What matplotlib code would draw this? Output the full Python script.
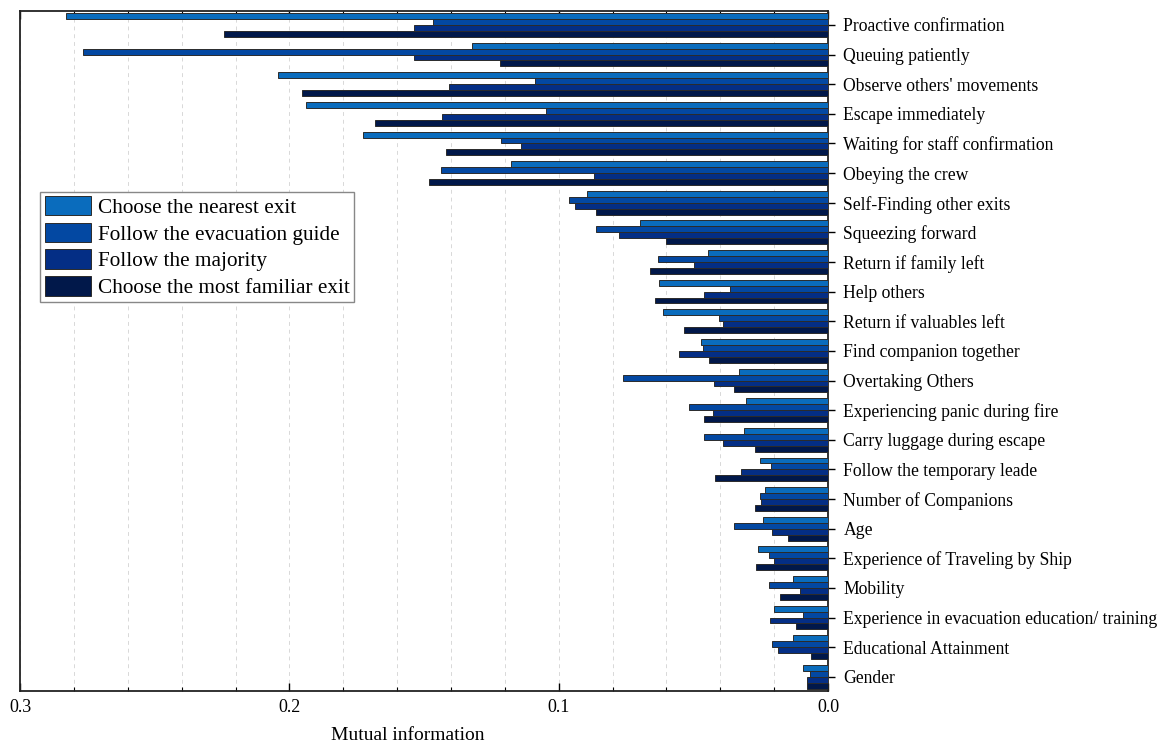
import matplotlib
matplotlib.use("Agg")
import matplotlib.pyplot as plt
import numpy as np

plt.rcParams['font.family'] = ['Liberation Serif', 'DejaVu Serif']

# categories, top to bottom
factors = ["Proactive confirmation", "Queuing patiently", "Observe others' movements",
           "Escape immediately", "Waiting for staff confirmation", "Obeying the crew",
           "Self-Finding other exits", "Squeezing forward", "Return if family left",
           "Help others", "Return if valuables left", "Find companion together",
           "Overtaking Others", "Experiencing panic during fire", "Carry luggage during escape",
           "Follow the temporary leade", "Number of Companions", "Age",
           "Experience of Traveling by Ship", "Mobility",
           "Experience in evacuation education/ training", "Educational Attainment", "Gender"]

series_names = ["Choose the nearest exit", "Follow the evacuation guide",
                "Follow the majority", "Choose the most familiar exit"]

nearest = [0.2829, 0.1322, 0.2042, 0.1938, 0.1727, 0.1179, 0.0896, 0.0700, 0.0447, 0.0626,
           0.0614, 0.0473, 0.0329, 0.0303, 0.0313, 0.0252, 0.0236, 0.0242, 0.0261, 0.0131,
           0.0201, 0.0132, 0.0094]
guide = [0.1467, 0.2767, 0.1089, 0.1047, 0.1215, 0.1438, 0.0962, 0.0862, 0.0630, 0.0363,
         0.0405, 0.0464, 0.0762, 0.0517, 0.0462, 0.0211, 0.0253, 0.0348, 0.0220, 0.0221,
         0.0095, 0.0209, 0.0068]
majority = [0.1537, 0.1538, 0.1409, 0.1435, 0.1141, 0.0868, 0.0941, 0.0778, 0.0498, 0.0459,
            0.0391, 0.0553, 0.0424, 0.0426, 0.0391, 0.0325, 0.0248, 0.0210, 0.0199, 0.0106,
            0.0214, 0.0187, 0.0077]
familiar = [0.2242, 0.1219, 0.1952, 0.1684, 0.1417, 0.1483, 0.0862, 0.0603, 0.0661, 0.0644,
            0.0535, 0.0444, 0.0351, 0.0462, 0.0273, 0.0421, 0.0273, 0.0150, 0.0268, 0.0177,
            0.0121, 0.0064, 0.0078]

colors = ["#0a6cbd", "#0348a2", "#042e85", "#01184a"]

fig = plt.figure(figsize=(11.66, 7.44), dpi=100)
ax = fig.add_axes([0.0172, 0.0716, 0.6930, 0.9140])

y = np.arange(len(factors))
h = 0.2
for i, vals in enumerate([nearest, guide, majority, familiar]):
    ax.barh(y + (i - 1.5) * h, vals, height=h, color=colors[i],
            edgecolor="#2b2b2b", linewidth=0.7, label=series_names[i], zorder=3)

ax.set_xlim(0.3, 0.0)
ax.set_ylim(len(factors) - 0.53, -0.48)

ax.set_xticks([0.3, 0.2, 0.1, 0.0])
ax.set_xticklabels(["0.3", "0.2", "0.1", "0.0"])
ax.set_xticks(np.arange(0.02, 0.3, 0.02), minor=True)
ax.xaxis.grid(True, which="both", color="#d8d8d8", linestyle=(0, (4, 4)), linewidth=0.7, zorder=0)
ax.tick_params(axis="x", which="major", direction="in", top=True, bottom=True, length=6,
               width=1, labelsize=13, pad=6)
ax.tick_params(axis="x", which="minor", direction="in", top=True, bottom=True, length=3, width=0.8)

ax.yaxis.tick_right()
ax.set_yticks(y)
ax.set_yticklabels(factors)
ax.tick_params(axis="y", direction="out", length=5, width=1, labelsize=12.7, pad=6,
               left=False, right=True)

for s in ax.spines.values():
    s.set_linewidth(1.3)
    s.set_color("#222222")

ax.set_xlabel("Mutual information", fontsize=14)
ax.xaxis.set_label_coords(0.48, -0.053)

leg = ax.legend(loc="upper left", bbox_to_anchor=(0.025, 0.734), fontsize=15.3,
                handlelength=2.2, handleheight=1.04, labelspacing=0.22, handletextpad=0.3,
                borderpad=0.2, borderaxespad=0, fancybox=False, edgecolor="#888888",
                framealpha=1)

fig.savefig("out.png", dpi=100)
